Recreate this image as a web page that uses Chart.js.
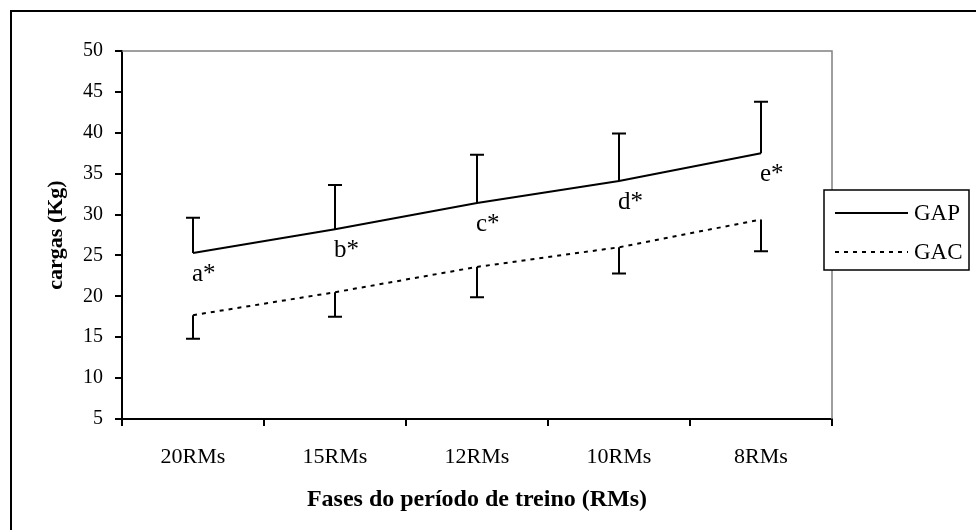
<!DOCTYPE html>
<html>
<head>
<meta charset="utf-8">
<script src="https://cdn.jsdelivr.net/npm/chart.js@4"></script>
<style>
  html, body { margin: 0; padding: 0; background: #fff; }
  #wrap { width: 976px; height: 530px; }
</style>
</head>
<body>
<div id="wrap"><canvas id="chart" width="976" height="530"></canvas></div>
<script>
const phases = ['20RMs', '15RMs', '12RMs', '10RMs', '8RMs'];
const gapMean = [25.3, 28.2, 31.4, 34.1, 37.5];
const gapSD = [4.3, 5.4, 5.9, 5.8, 6.3];
const gacMean = [17.7, 20.5, 23.6, 26.0, 29.4];
const gacSD = [2.9, 3.0, 3.7, 3.2, 3.9];
const letters = ['a*', 'b*', 'c*', 'd*', 'e*'];
const yTicks = [5, 10, 15, 20, 25, 30, 35, 40, 45, 50];

const serif = "'Liberation Serif', 'Times New Roman', serif";

// error bars: GAP goes up, GAC goes down
const errorBars = {
  id: 'errorBars',
  afterDatasetsDraw(chart) {
    const ctx = chart.ctx;
    const y = chart.scales.y;
    const sets = [[0, gapMean, gapSD, 1], [1, gacMean, gacSD, -1]];
    ctx.save();
    ctx.strokeStyle = '#000';
    ctx.lineWidth = 2;
    ctx.setLineDash([]);
    sets.forEach(([i, mean, sd, dir]) => {
      chart.getDatasetMeta(i).data.forEach((pt, k) => {
        const y0 = y.getPixelForValue(mean[k]);
        const y1 = y.getPixelForValue(mean[k] + dir * sd[k]);
        ctx.beginPath();
        ctx.moveTo(pt.x, y0);
        ctx.lineTo(pt.x, y1);
        ctx.moveTo(pt.x - 7, y1);
        ctx.lineTo(pt.x + 7, y1);
        ctx.stroke();
      });
    });
    // letters under GAP points
    ctx.fillStyle = '#000';
    ctx.font = '25px ' + serif;
    ctx.textAlign = 'left';
    ctx.textBaseline = 'alphabetic';
    chart.getDatasetMeta(0).data.forEach((pt, k) => {
      ctx.fillText(letters[k], pt.x - 1, pt.y + 28);
    });
    ctx.restore();
  }
};

// frame, gray plot border and the boxed legend
const decor = {
  id: 'decor',
  beforeDraw(chart) {
    const ctx = chart.ctx;
    ctx.save();
    ctx.fillStyle = '#fff';
    ctx.fillRect(0, 0, chart.width, chart.height);
    ctx.strokeStyle = '#000';
    ctx.lineWidth = 2;
    ctx.strokeRect(11, 11, 1000, 600);
    ctx.restore();
  },
  afterDraw(chart) {
    const ctx = chart.ctx;
    const a = chart.chartArea;
    ctx.save();
    ctx.strokeStyle = '#808080';
    ctx.lineWidth = 1.5;
    ctx.beginPath();
    ctx.moveTo(a.left, a.top);
    ctx.lineTo(a.right, a.top);
    ctx.lineTo(a.right, a.bottom);
    ctx.stroke();

    const bx = 824, by = 190, bw = 145, bh = 80;
    ctx.fillStyle = '#fff';
    ctx.fillRect(bx, by, bw, bh);
    ctx.strokeStyle = '#000';
    ctx.lineWidth = 1.5;
    ctx.strokeRect(bx, by, bw, bh);
    ctx.font = '23px ' + serif;
    ctx.textBaseline = 'middle';
    ctx.textAlign = 'left';
    chart.data.datasets.forEach((ds, i) => {
      const ly = by + 23 + i * 39;
      ctx.beginPath();
      ctx.setLineDash(ds.borderDash || []);
      ctx.lineWidth = 2;
      ctx.moveTo(835, ly);
      ctx.lineTo(908, ly);
      ctx.stroke();
      ctx.setLineDash([]);
      ctx.fillStyle = '#000';
      ctx.fillText(ds.label, 914, ly + 1);
    });
    ctx.restore();
  }
};

new Chart(document.getElementById('chart'), {
  type: 'line',
  data: {
    labels: phases,
    datasets: [
      { label: 'GAP', data: gapMean, borderColor: '#000', borderWidth: 2, pointRadius: 0, fill: false, tension: 0 },
      { label: 'GAC', data: gacMean, borderColor: '#000', borderWidth: 2, borderDash: [4, 5], pointRadius: 0, fill: false, tension: 0 }
    ]
  },
  options: {
    responsive: false,
    animation: false,
    layout: { padding: { left: 40, top: 51, right: 144, bottom: 11 } },
    plugins: { legend: { display: false }, tooltip: { enabled: false } },
    scales: {
      x: {
        offset: true,
        grid: { offset: true, drawOnChartArea: false, drawTicks: true, tickLength: 7, color: '#000', lineWidth: 2 },
        border: { color: '#000', width: 2 },
        ticks: { color: '#000', font: { family: serif, size: 22 }, padding: 18, maxRotation: 0 },
        title: { display: true, text: 'Fases do período de treino (RMs)', color: '#000',
                 font: { family: serif, size: 24, weight: 'bold' }, padding: { bottom: 5 } },
        afterFit(s) { s.height = 100; }
      },
      y: {
        min: 5, max: 50,
        afterBuildTicks(s) { s.ticks = yTicks.map(v => ({ value: v })); },
        grid: { drawOnChartArea: false, drawTicks: true, tickLength: 7, color: '#000', lineWidth: 2 },
        border: { color: '#000', width: 2 },
        ticks: { color: '#000', font: { family: serif, size: 20 }, padding: 12 },
        title: { display: true, text: 'cargas (Kg)', color: '#000',
                 font: { family: serif, size: 22, weight: 'bold' }, padding: { top: 3 } },
        afterFit(s) { s.width = 82; }
      }
    }
  },
  plugins: [decor, errorBars]
});
</script>
</body>
</html>
